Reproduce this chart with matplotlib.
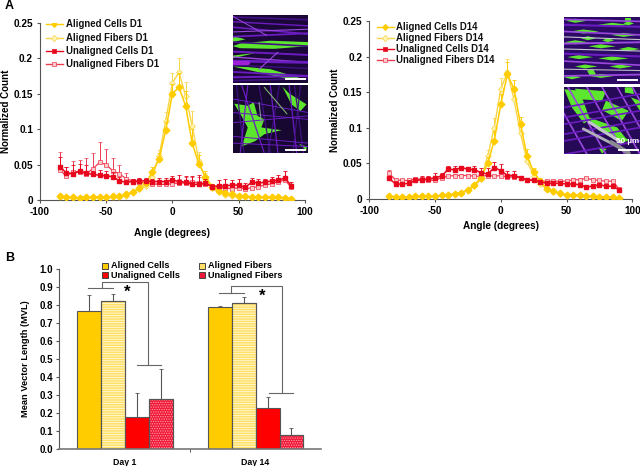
import matplotlib
matplotlib.use("Agg")
import matplotlib.pyplot as plt
import numpy as np

plt.rcParams['font.family'] = ['Liberation Sans', 'DejaVu Sans']
plt.rcParams['font.weight'] = 'bold'
plt.rcParams['axes.labelweight'] = 'bold'
plt.rcParams['axes.unicode_minus'] = False
plt.rcParams['hatch.linewidth'] = .6

W, H = 640, 466
GOLD = '#FFCC00'
LIGHT_GOLD = '#F8D548'
RED = '#E8081E'
PINK = '#EE3B50'
GREEN = '#5CE62E'

angles = np.arange(-85, 95, 5)

# Day 1 curves
cells_a_d1 = [.005, .004, .004, .003, .004, .004, .004, .004, .005, .005, .008, .011, .017, .024, .040, .058, .098, .150,
              .159, .133, .080, .051, .033, .019, .013, .010, .008, .006, .005, .004, .004, .004, .004, .004, .003, .002]
fibers_a_d1 = [.004, .004, .003, .003, .003, .004, .004, .004, .004, .004, .006, .011, .015, .020, .033, .062, .112, .165,
               .180, .147, .105, .055, .030, .017, .011, .007, .005, .004, .004, .004, .004, .004, .004, .004, .003, .002]
cells_u_d1 = [.047, .038, .037, .041, .038, .036, .035, .034, .033, .027, .025, .026, .027, .027, .026, .026, .026, .028,
              .026, .025, .022, .022, .024, .019, .020, .020, .021, .021, .018, .025, .024, .025, .027, .028, .031, .020]
fibers_u_d1 = [.042, .034, .040, .040, .037, .044, .053, .050, .041, .037, .030, .027, .025, .024, .023, .022, .022, .023,
               .024, .024, .026, .024, .022, .019, .017, .017, .016, .017, .016, .017, .019, .021, .023, .026, .028, .018]
err_cells_u_d1 = [.013, .008, .012, .010, .012, .005, .008, .007, .006, .005, .003, .003, .004, .004, .004, .005, .005, .006,
                  .009, .009, .012, .013, .005, .004, .008, .010, .007, .008, .006, .006, .005, .005, .006, .007, .010, .006]
err_fibers_u_d1 = [.025, .012, .015, .017, .022, .022, .029, .022, .018, .012, .008, .003, .004, .004, .004, .005, .005, .004,
                   .005, .008, .006, .008, .004, .004, .005, .005, .004, .005, .004, .003, .003, .004, .004, .004, .004, .004]
err_a_d1 = [.001, .001, .001, .001, .001, .001, .001, .001, .001, .001, .002, .003, .004, .005, .006, .008, .012, .014,
            .020, .020, .020, .013, .008, .004, .004, .003, .003, .002, .001, .001, .001, .001, .001, .001, .001, .001]

# Day 14 curves
cells_a_d14 = [.004, .003, .003, .003, .004, .004, .004, .004, .005, .006, .007, .009, .013, .020, .030, .050, .082, .133,
               .175, .155, .105, .060, .038, .025, .014, .011, .008, .006, .005, .005, .004, .004, .003, .003, .003, .001]
fibers_a_d14 = [.003, .003, .003, .003, .003, .004, .004, .004, .005, .006, .007, .009, .012, .018, .028, .060, .100, .155,
                .178, .140, .092, .053, .033, .021, .014, .010, .007, .005, .005, .004, .004, .004, .003, .003, .003, .001]
cells_u_d14 = [.029, .021, .021, .022, .026, .027, .028, .030, .032, .042, .041, .044, .042, .041, .037, .035, .044, .040,
               .033, .033, .030, .027, .026, .024, .022, .022, .022, .021, .021, .020, .017, .018, .020, .018, .018, .013]
fibers_u_d14 = [.036, .027, .026, .026, .028, .028, .027, .026, .030, .032, .033, .033, .033, .032, .032, .033, .032, .033,
                .031, .031, .030, .027, .027, .025, .025, .025, .025, .025, .027, .027, .029, .027, .026, .025, .025, .014]
err_cells_u_d14 = [.004, .004, .003, .004, .004, .005, .005, .006, .005, .005, .006, .002, .002, .006, .006, .008, .008, .009,
                   .007, .006, .003, .002, .002, .003, .002, .002, .002, .002, .002, .002, .002, .002, .002, .002, .002, .002]
err_fibers_u_d14 = [.005, .002, .002, .002, .003, .003, .003, .002, .002, .002, .002, .002, .002, .002, .002, .002, .002, .002,
                    .002, .002, .002, .002, .002, .002, .002, .002, .002, .002, .002, .002, .002, .002, .002, .002, .002, .002]
err_a_d14 = [.001, .001, .001, .001, .001, .001, .001, .001, .001, .001, .001, .002, .002, .003, .004, .009, .014, .015,
             .018, .012, .010, .010, .006, .004, .003, .002, .001, .001, .001, .001, .001, .001, .001, .001, .001, .001]

# Bar panel
groups = ['Day 1', 'Day 14']
bar_labels = ['Aligned Cells', 'Aligned Fibers', 'Unaligned Cells', 'Unaligned Fibers']
mvl = [[.765, .79], [.825, .81], [.175, .225], [.275, .075]]
mvl_err = [[.09, .004], [.04, .035], [.135, .065], [.17, .04]]


def px_axes(fig, left, top, right, bottom):
    return fig.add_axes([left / W, 1 - bottom / H, (right - left) / W, (bottom - top) / H])


def draw_curves(ax, series, day, legend_xy, xlabel_y):
    a_c, a_f, u_c, u_f, e_a, e_uc, e_uf = series
    zero = np.zeros(len(angles))
    ax.errorbar(angles, a_f, yerr=[zero, e_a], color=LIGHT_GOLD, lw=1, marker='D', ms=3, mfc='#FFF3B0', mec=LIGHT_GOLD,
                mew=.5, elinewidth=.7, capsize=1.3, capthick=.6, zorder=2)
    ax.errorbar(angles, u_f, yerr=[zero, e_uf], color=PINK, lw=.9, marker='s', ms=2.8, mfc='#FBC8CC', mec=PINK,
                mew=.5, elinewidth=.7, capsize=1.3, capthick=.6, zorder=3)
    ax.errorbar(angles, a_c, yerr=[zero, e_a], color=GOLD, lw=1.1, marker='D', ms=3.4, mfc=GOLD, mec=GOLD,
                elinewidth=.7, capsize=1.3, capthick=.6, zorder=3)
    ax.errorbar(angles, u_c, yerr=[zero, e_uc], color=RED, lw=1.1, marker='s', ms=3, mfc=RED, mec=RED,
                elinewidth=.7, capsize=1.3, capthick=.6, zorder=4)
    ax.set_xlim(-100, 100)
    ax.set_ylim(0, .25)
    ax.set_xticks([-100, -50, 0, 50, 100])
    ax.set_yticks([0, .05, .1, .15, .2, .25])
    ax.set_yticklabels(['0', '0.05', '0.1', '0.15', '0.2', '0.25'])
    ax.tick_params(labelsize=7.2, length=2.5, width=.8, pad=2.5, direction='out', color='#555555')
    ax.set_xlabel('Angle (degrees)', fontsize=7.2)
    ax.xaxis.set_label_coords(.5, xlabel_y)
    ax.set_ylabel('Normalized Count', fontsize=7, labelpad=2)
    for s in ['top', 'right']:
        ax.spines[s].set_visible(False)
    for s in ['left', 'bottom']:
        ax.spines[s].set_color('#555555')
        ax.spines[s].set_linewidth(.8)

    # legend by hand so spacing follows the reference
    names = ['Aligned Cells', 'Aligned Fibers', 'Unaligned Cells', 'Unaligned Fibers']
    cols = [GOLD, LIGHT_GOLD, RED, PINK]
    marks = ['D', 'D', 's', 's']
    faces = [GOLD, '#FFF3B0', RED, '#FBC8CC']
    x0, y0, dy = legend_xy
    for i in range(4):
        y = y0 - i * dy
        ax.plot([x0, x0 + 13], [y, y], color=cols[i], lw=1)
        ax.plot([x0 + 6.5], [y], color=cols[i], marker=marks[i], ms=3.2, mfc=faces[i], mec=cols[i], mew=.5)
        ax.text(x0 + 15, y, f'{names[i]} {day}', fontsize=6.9, va='center', ha='left', color='#111111')


def lens(x, y, length, h):
    # tapered streak for a stretched cell
    return [x, x + length * .45, x + length, x + length * .45], [y, y - h, y, y + h]


def draw_inset(fig, box, bg, strokes, green_shapes, scale=None, note=None):
    ax = px_axes(fig, *box)
    ax.set_xlim(0, 1)
    ax.set_ylim(1, 0)
    ax.set_facecolor(bg)
    ax.set_xticks([])
    ax.set_yticks([])
    for s in ax.spines.values():
        s.set_visible(False)
    for xs, ys, col, lw in strokes:
        ax.plot(xs, ys, color=col, lw=lw, solid_capstyle='round')
    for xs, ys in green_shapes:
        ax.fill(xs, ys, color=GREEN, lw=0)
    if scale:
        ax.plot(scale[0], scale[1], color='white', lw=1.4)
    if note:
        ax.text(note[0], note[1], '50 µm', color='white', fontsize=5.8, ha='center', va='center')


fig = plt.figure(figsize=(W / 100, H / 100), dpi=100)

ax1 = px_axes(fig, 40, 22.7, 304.7, 200)
draw_curves(ax1, (cells_a_d1, fibers_a_d1, cells_u_d1, fibers_u_d1, err_a_d1, err_cells_u_d1, err_fibers_u_d1),
            'D1', (-95.7, .2475, .0188), -.157)
ax2 = px_axes(fig, 369.3, 21, 632.3, 199)
draw_curves(ax2, (cells_a_d14, fibers_a_d14, cells_u_d14, fibers_u_d14, err_a_d14, err_cells_u_d14, err_fibers_u_d14),
            'D14', (-94.4, .242, .0156), -.125)

# Micrograph insets, drawn as simple fibre strokes and cell shapes
P1, P2, P3 = '#6A1CC0', '#9A48DE', '#3E1080'
draw_inset(fig, (232.7, 15, 308, 82.7), '#1C0838',
           [([0, 1], [y, y + d], c, lw) for y, d, c, lw in
            [(.03, .04, P3, 1.2), (.1, .06, P1, 1), (.18, .1, P1, 1.2), (.25, -.04, P2, .8), (.32, -.05, P1, 1.3),
             (.4, .06, P3, 1.2), (.54, .05, P1, 1.4), (.62, .08, P2, 1), (.68, .02, P1, 2), (.74, .05, P3, 1),
             (.84, .06, P1, 1.3), (.92, -.02, P1, 1.5), (.97, -.03, P3, 1.2)]] +
           [([0, .2], [.71, .71], '#A020D8', 3), ([0, .45], [.02, .3], P2, .7), ([.35, .6], [.8, .55], P2, .8)],
           [([0, .1, .5, 1, 1, .55, .1], [.46, .42, .38, .4, .46, .5, .49]),
            ([0, .2, .5, .95, .75, .4], [.76, .77, .8, .95, .95, .86]),
            ([0, .17, 0], [.31, .36, .4]),
            ([0, .3, 0], [.6, .56, .64])],
           scale=([.71, .96], [.95, .95]))
draw_inset(fig, (232.7, 85.3, 308, 153.3), '#160830',
           [([x, x + d], [0, 1], P1 if i % 2 else P3, .9) for i, (x, d) in
            enumerate([(.05, .1), (.2, -.1), (.35, .15), (.5, .1), (.62, -.15), (.75, .1), (.9, -.1), (.12, .3), (.82, .12)])] +
           [([0, 1], [y, y + d], P1, .7) for y, d in [(.2, .2), (.4, .1), (.55, -.1), (.75, .1), (.85, .05)]] +
           [([.42, .72], [.03, .42], '#7FB070', .8), ([.35, .38], [.25, .55], '#8A90A0', .8)],
           [([.02, .2, .28, .33, .42, .38, .65, .42, .3, .12, .2, .1],
             [.27, .3, .25, .45, .5, .62, .66, .72, .82, .9, .62, .42]),
            ([.66, .75, .98, .9, .78], [.02, .12, .28, .38, .28]),
            ([.88, .98, .98], [.86, .9, .96])],
           scale=([.71, .96], [.95, .95]))
draw_inset(fig, (564.3, 16.7, 640, 84), '#2C0A66',
           [([0, 1], [y, y + d], c, lw) for y, d, c, lw in
            [(.04, .03, P2, 1.2), (.12, .03, P1, 1.5), (.22, .05, P2, 1.2), (.3, .04, '#C8C8D0', .8), (.4, -.02, P2, 1.4),
             (.48, .03, '#C8C8D0', .8), (.55, .04, P1, 1.5), (.66, .06, P2, 1.2), (.78, .02, '#B8B8C0', .8), (.88, -.02, P2, 1.3)]],
           [lens(x, y, l, .03) for x, y, l in
            [(.02, .06, .28), (.45, .12, .4), (.08, .22, .38), (.62, .27, .36), (.0, .38, .32), (.32, .44, .36),
             (.72, .48, .28), (.04, .6, .34), (.45, .62, .4), (.14, .74, .3), (.6, .74, .3), (.0, .9, .22), (.34, .88, .32),
             (.78, .1, .14), (.22, .32, .2), (.5, .35, .16)]] +
           [([.3, .38, .42, .34], [.8, .78, .86, .88]), ([.8, .88, .88, .8], [.02, .02, .08, .08])],
           scale=([.71, .96], [.94, .94]))
draw_inset(fig, (564.3, 87.3, 640, 154.3), '#260A58',
           [([x, x + .5], [0, 1], P2, 1.2) for x in [-.2, .05, .3, .5, .7, .9]] +
           [([0, 1], [y, y - .2], P1, 1.2) for y in [.3, .45, .55, .7, .8, 1]] +
           [([.33, .75], [.52, .82], '#C4C4CC', 2.2), ([.25, .7], [.62, .88], '#B0B0B8', 2),
            ([.62, .85], [.82, .98], '#8A8A90', 3)],
           [([0, .2, .34, .26, .1], [.03, .05, .48, .54, .3]),
            ([.14, .55, .5, .22], [.02, .06, .2, .18]),
            ([.55, .85, .76, .5], [.2, .35, .5, .34]),
            ([.3, .7, .84, .75, .45], [.44, .6, .8, .83, .64]),
            ([.4, .85, .8, .48], [.56, .78, .8, .62]),
            ([.88, 1, 1], [.15, .2, .35]),
            ([.8, .9, .92, .8], [.0, .0, .1, .08]),
            ([.45, .56, .5], [.9, .92, .99])],
           scale=([.72, .98], [.93, .93]), note=(.84, .81))

# Panel B
ax3 = px_axes(fig, 59.3, 269.3, 321, 448.7)
x = np.arange(len(groups))
width = .183
offsets = [-1.5, -.5, .5, 1.5]
faces = [GOLD, '#FFDF66', '#FF0000', '#F01838']
hatches = [None, '-------', None, '.......']
hatch_cols = ['#555555', '#FFFBE0', '#555555', '#FFA0A8']
for i in range(4):
    b = ax3.bar(x + offsets[i] * width, mvl[i], width, color=faces[i], edgecolor='#555555', linewidth=.8,
                yerr=[np.zeros(2), mvl_err[i]], error_kw=dict(ecolor='#555555', elinewidth=.8, capsize=1.3, capthick=.6))
    if hatches[i]:
        for r in b:
            ax3.bar(r.get_x() + width / 2, r.get_height(), width, color='none', edgecolor=hatch_cols[i],
                    hatch=hatches[i], linewidth=0)
            ax3.bar(r.get_x() + width / 2, r.get_height(), width, color='none', edgecolor='#555555', linewidth=.8)

ax3.set_xlim(-.5, 1.5)
ax3.set_ylim(0, 1)
ax3.set_xticks(x)
ax3.set_xticklabels(groups, fontsize=6.3)
ax3.set_xticks([.5], minor=True)
ax3.set_yticks(np.arange(0, 1.01, .1))
ax3.tick_params(axis='y', labelsize=7, length=2.5, width=.8, pad=2, color='#555555')
ax3.tick_params(axis='x', length=0, pad=7)
ax3.tick_params(axis='x', which='minor', length=2, width=.7, color='#555555')
ax3.set_ylabel('Mean Vector Length (MVL)', fontsize=6.7, labelpad=7)
for s in ['top', 'right']:
    ax3.spines[s].set_visible(False)
ax3.spines['left'].set_color('#555555')
ax3.spines['left'].set_linewidth(.8)
ax3.spines['bottom'].set_color('#777777')
ax3.spines['bottom'].set_linewidth(1.2)


def bx(px):
    return (px - 59.3) / 130.85 - .5


# significance brackets
br = '#666666'
ax3.plot([bx(88.3), bx(113)], [.894, .894], color=br, lw=.8)
ax3.plot([bx(101.7), bx(101.7), bx(148.3), bx(148.3)], [.894, .927, .927, .466], color=br, lw=.8)
ax3.plot([bx(137), bx(160.7)], [.466, .466], color=br, lw=.8)
ax3.text(bx(127), .87, '*', fontsize=12, ha='center', va='center')
ax3.plot([bx(219.3), bx(244)], [.866, .866], color=br, lw=.8)
ax3.plot([bx(231.3), bx(231.3), bx(282.3), bx(282.3)], [.866, .907, .907, .31], color=br, lw=.8)
ax3.plot([bx(268.7), bx(293.3)], [.31, .31], color=br, lw=.8)
ax3.text(bx(261.7), .85, '*', fontsize=12, ha='center', va='center')

# bar legend
leg_x = [102, 199]
leg_y = [265.7, 275]
for i, name in enumerate(bar_labels):
    lx = leg_x[i % 2]
    ly = leg_y[i // 2]
    fig.patches.append(plt.Rectangle((lx / W, 1 - (ly + 3) / H), 6 / W, 6 / H, transform=fig.transFigure,
                                     facecolor=faces[i], edgecolor='#444444', lw=.7))
    fig.text((lx + 9) / W, 1 - ly / H, name, fontsize=6.6, va='center', ha='left')

fig.text(5 / W, 1 - 6 / H, 'A', fontsize=9, va='center', ha='left')
fig.text(5 / W, 1 - 258 / H, 'B', fontsize=9, va='center', ha='left')

fig.savefig('out.png', dpi=100)
